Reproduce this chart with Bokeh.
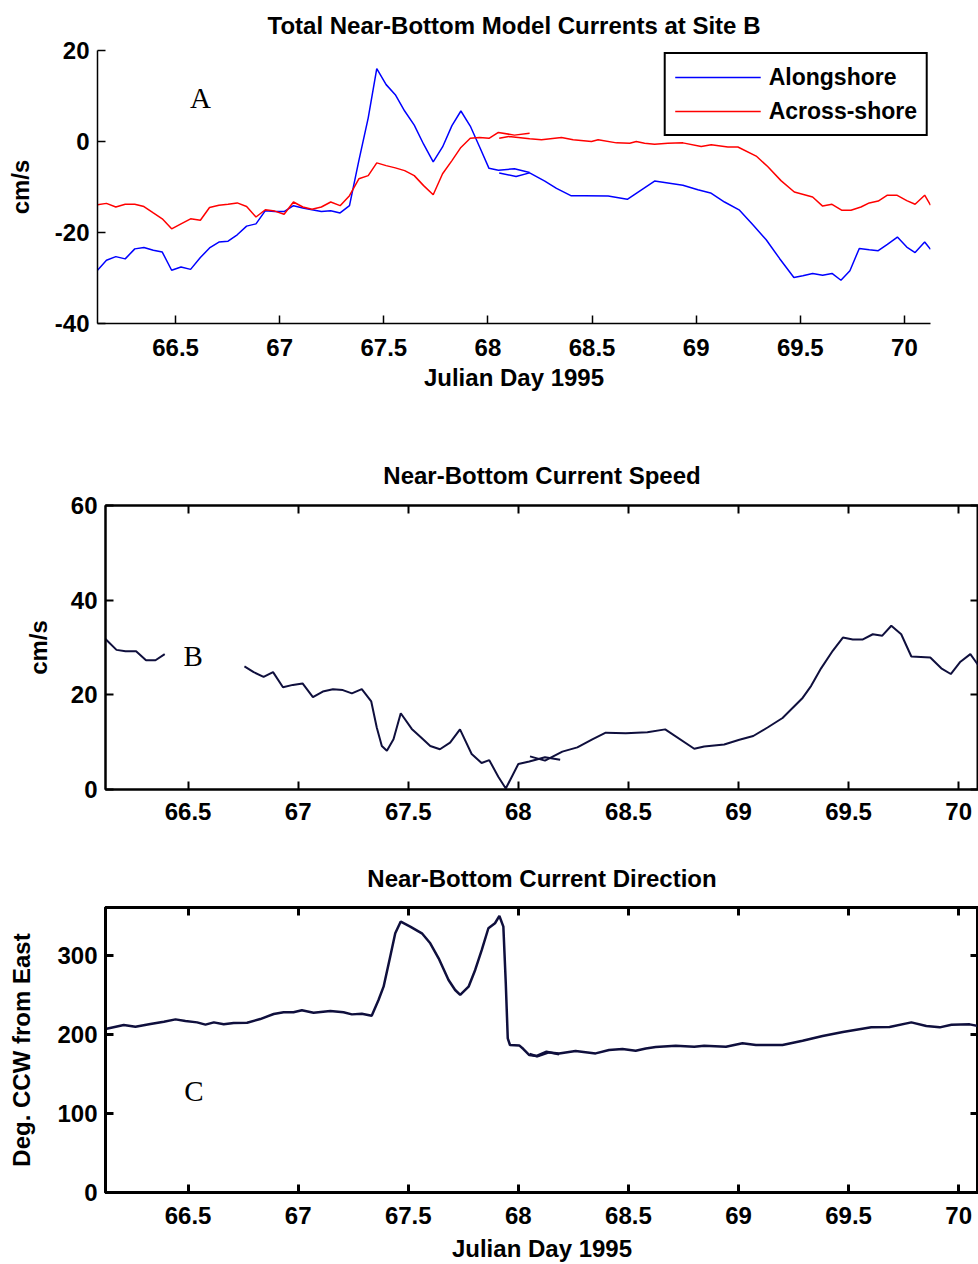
from bokeh.plotting import figure
from bokeh.models import (FixedTicker, LinearAxis, Legend, LegendItem, Label, Range1d)
from bokeh.embed import file_html
from bokeh.resources import INLINE

# ---------------- data ----------------
x_ticks = [66.5, 67, 67.5, 68, 68.5, 69, 69.5, 70]
x_tick_labels = ["66.5", "67", "67.5", "68", "68.5", "69", "69.5", "70"]
a_y_ticks = [-40, -20, 0, 20]
b_y_ticks = [0, 20, 40, 60]
c_y_ticks = [0, 100, 200, 300]

# Panel A, first data chunk (shared days)
a_day_1 = [66.125, 66.168, 66.213, 66.258, 66.304, 66.348, 66.393, 66.436, 66.481, 66.526,
           66.572, 66.619, 66.663, 66.708, 66.752, 66.796, 66.841, 66.886, 66.931, 66.976,
           67.021, 67.066, 67.111, 67.155, 67.2, 67.245, 67.29, 67.335, 67.38, 67.425,
           67.466, 67.511, 67.555, 67.6, 67.646, 67.691, 67.737, 67.782, 67.827, 67.87,
           67.915, 67.96, 68.005, 68.05, 68.127, 68.2]
along_1 = [-28.3, -26.1, -25.3, -25.8, -23.6, -23.3, -23.9, -24.3, -28.3, -27.6,
           -28.1, -25.5, -23.4, -22.1, -21.9, -20.5, -18.6, -18.1, -15.2, -15.4,
           -15.4, -14.1, -14.6, -15.0, -15.4, -15.2, -15.7, -14.1, -4.2, 5.2,
           16.0, 12.5, 10.3, 6.7, 3.6, -0.6, -4.5, -1.2, 3.5, 6.7,
           3.4, -1.2, -5.9, -6.3, -6.0, -6.8]
across_1 = [-13.9, -13.6, -14.4, -13.8, -13.8, -14.3, -15.7, -17.0, -19.2, -18.1,
            -17.0, -17.3, -14.5, -14.0, -13.8, -13.5, -14.3, -16.6, -15.0, -15.3,
            -16.0, -13.3, -14.4, -14.9, -14.4, -13.3, -14.1, -11.9, -8.2, -7.5,
            -4.7, -5.3, -5.8, -6.4, -7.5, -9.7, -11.7, -7.1, -4.2, -1.3,
            0.7, 0.9, 0.7, 2.0, 1.4, 1.8]

# Panel A, second data chunk
along_day_2 = [68.054, 68.135, 68.2, 68.273, 68.329, 68.398, 68.465, 68.577, 68.669, 68.8,
               68.936, 69.008, 69.069, 69.136, 69.208, 69.272, 69.336, 69.4, 69.469, 69.512,
               69.559, 69.607, 69.652, 69.695, 69.738, 69.783, 69.831, 69.874, 69.918, 69.966,
               70.011, 70.051, 70.097, 70.125]
along_2 = [-6.9, -7.7, -6.9, -8.7, -10.3, -11.9, -11.9, -12.0, -12.7, -8.7,
           -9.6, -10.6, -11.3, -13.3, -15.1, -18.3, -21.6, -25.7, -29.9, -29.5,
           -29.0, -29.4, -29.0, -30.5, -28.4, -23.5, -23.8, -24.0, -22.6, -21.0,
           -23.2, -24.4, -22.1, -23.7]
across_day_2 = [68.054, 68.1, 68.145, 68.2, 68.257, 68.353, 68.409, 68.497, 68.529, 68.617,
                68.681, 68.712, 68.752, 68.8, 68.864, 68.936, 69.024, 69.072, 69.152, 69.2,
                69.288, 69.343, 69.407, 69.471, 69.559, 69.607, 69.652, 69.698, 69.743, 69.791,
                69.831, 69.874, 69.918, 69.963, 70.011, 70.051, 70.097, 70.125]
across_2 = [0.7, 1.1, 0.9, 0.6, 0.4, 0.9, 0.4, 0.0, 0.4, -0.3,
            -0.4, 0.0, -0.4, -0.6, -0.4, -0.3, -1.1, -0.7, -1.2, -1.2,
            -3.2, -5.5, -8.6, -11.1, -12.2, -14.2, -13.8, -15.1, -15.1, -14.4,
            -13.5, -13.1, -11.8, -11.8, -13.0, -13.8, -11.8, -14.0]

# Panel B: current speed (three chunks)
spd_day_1 = [66.125, 66.175, 66.216, 66.264, 66.309, 66.352, 66.394]
spd_1 = [31.8, 29.5, 29.2, 29.2, 27.3, 27.3, 28.6]
spd_day_2 = [66.756, 66.798, 66.843, 66.886, 66.931, 66.976, 67.02, 67.067, 67.112, 67.158,
             67.203, 67.244, 67.289, 67.332, 67.357, 67.38, 67.403, 67.433, 67.466, 67.516,
             67.561, 67.6, 67.644, 67.69, 67.735, 67.788, 67.833, 67.868, 67.909, 67.943,
             68.0, 68.05, 68.121, 68.19]
spd_2 = [26.0, 24.8, 23.8, 24.8, 21.6, 22.1, 22.4, 19.5, 20.7, 21.2,
         21.0, 20.3, 21.2, 18.6, 13.1, 9.2, 8.2, 10.6, 16.1, 12.8,
         10.9, 9.2, 8.5, 9.9, 12.7, 7.5, 5.6, 6.2, 2.7, 0.2,
         5.4, 5.9, 6.8, 6.3]
spd_day_3 = [68.053, 68.121, 68.2, 68.268, 68.336, 68.397, 68.488, 68.586, 68.667, 68.799,
             68.844, 68.935, 69.004, 69.067, 69.132, 69.2, 69.292, 69.33, 69.375, 69.428,
             69.474, 69.519, 69.565, 69.61, 69.653, 69.694, 69.739, 69.785, 69.871, 69.921,
             69.964, 70.008, 70.053, 70.099]
spd_3 = [7.0, 6.1, 8.0, 8.9, 10.6, 12.0, 11.9, 12.1, 12.7, 8.6,
         9.1, 9.5, 10.5, 11.3, 13.1, 15.1, 19.4, 21.9, 25.6, 29.3,
         32.1, 31.7, 31.7, 32.8, 32.5, 34.6, 32.8, 28.1, 27.9, 25.6,
         24.4, 27.0, 28.6, 25.6]

# Panel C: current direction (two chunks)
dir_day_1 = [66.125, 66.208, 66.261, 66.329, 66.39, 66.443, 66.488, 66.541, 66.579, 66.617,
             66.662, 66.707, 66.768, 66.828, 66.889, 66.934, 66.979, 67.017, 67.07, 67.146,
             67.206, 67.244, 67.289, 67.334, 67.365, 67.388, 67.418, 67.441, 67.466, 67.509,
             67.562, 67.6, 67.638, 67.683, 67.713, 67.736, 67.774, 67.804, 67.834, 67.864,
             67.894, 67.914, 67.932, 67.943, 67.952, 67.962, 68.004, 68.023, 68.05, 68.083,
             68.128, 68.185]
dir_1 = [206.5, 211.5, 209.4, 212.8, 215.8, 218.7, 216.6, 214.9, 212.0, 214.9,
         212.4, 214.1, 214.5, 219.1, 225.5, 227.6, 227.6, 230.1, 227.1, 229.2,
         227.6, 225.0, 225.9, 223.3, 243.2, 260.0, 297.9, 327.4, 342.2, 335.9,
         327.4, 314.8, 295.8, 268.4, 255.8, 249.5, 260.0, 281.1, 306.4, 333.8,
         340.1, 349.3, 335.9, 264.2, 194.7, 186.3, 185.8, 181.2, 173.6, 172.4,
         177.8, 174.5]
dir_day_2 = [68.051, 68.086, 68.139, 68.185, 68.26, 68.351, 68.412, 68.473, 68.533, 68.579,
             68.624, 68.715, 68.799, 68.844, 68.943, 69.018, 69.079, 69.2, 69.291, 69.382,
             69.474, 69.603, 69.686, 69.785, 69.853, 69.914, 69.967, 70.05, 70.102]
dir_2 = [175.0, 172.0, 177.0, 175.5, 178.7, 175.7, 179.9, 181.2, 179.1, 182.0,
         183.7, 185.4, 184.2, 185.4, 184.2, 188.4, 186.3, 186.3, 191.7, 197.6,
         202.7, 208.6, 209.0, 214.9, 210.3, 208.6, 212.0, 212.4, 209.4]

# ---------------- styling helpers ----------------
FONT = "Liberation Sans"
SERIF = "Liberation Serif"
FS = "24px"
DARK = "#0f0f3d"


def style_axis(ax, ticks, labels=None, show=True, lw=1.5):
    ax.ticker = FixedTicker(ticks=ticks)
    if show:
        if labels is not None:
            ax.major_label_overrides = {t: l for t, l in zip(ticks, labels)}
    else:
        ax.major_label_overrides = {t: "" for t in ticks}
        ax.major_label_standoff = 0
        ax.major_label_text_font_size = "0px"
    ax.major_tick_in = 8
    ax.major_tick_out = 0
    ax.minor_tick_in = 0
    ax.minor_tick_out = 0
    ax.axis_line_width = lw
    ax.axis_line_color = "black"
    ax.major_tick_line_width = lw
    ax.major_tick_line_color = "black"
    ax.major_label_text_font = FONT
    if show:
        ax.major_label_text_font_size = FS
    ax.major_label_text_font_style = "bold"
    ax.major_label_text_color = "black"
    ax.axis_label_text_font = FONT
    ax.axis_label_text_font_size = FS
    ax.axis_label_text_font_style = "bold"
    ax.axis_label_text_color = "black"


def style_title(p, standoff):
    p.title.text_font = FONT
    p.title.text_font_size = FS
    p.title.text_font_style = "bold"
    p.title.align = "center"
    p.title.text_color = "black"
    p.title.standoff = standoff


# ---------------- Panel A ----------------
p1 = figure(width=978, height=430, x_range=Range1d(66.125, 70.125), y_range=Range1d(-40, 20),
            output_backend="svg", toolbar_location=None,
            title="Total Near-Bottom Model Currents at Site B",
            min_border_left=97, min_border_right=48, min_border_top=50, min_border_bottom=107)
p1.grid.visible = False
p1.outline_line_color = None
style_title(p1, 20)
p1.title.vertical_align = "top"
style_axis(p1.xaxis[0], x_ticks, x_tick_labels)
style_axis(p1.yaxis[0], a_y_ticks, [str(t) for t in a_y_ticks])
p1.xaxis[0].axis_label = "Julian Day 1995"
p1.yaxis[0].axis_label = "cm/s"
p1.xaxis[0].major_label_standoff = 15
p1.xaxis[0].axis_label_standoff = 5
p1.yaxis[0].major_label_standoff = 8
p1.yaxis[0].axis_label_standoff = 18

rb1 = p1.line(a_day_1, along_1, line_color="#0000ff", line_width=1.5)
p1.line(along_day_2, along_2, line_color="#0000ff", line_width=1.5)
rr1 = p1.line(a_day_1, across_1, line_color="#ff0000", line_width=1.5)
p1.line(across_day_2, across_2, line_color="#ff0000", line_width=1.5)

legend = Legend(items=[LegendItem(label="Alongshore", renderers=[rb1]),
                       LegendItem(label="Across-shore", renderers=[rr1])],
                location="top_right")
legend.label_text_font = FONT
legend.label_text_font_size = "23px"
legend.label_text_font_style = "bold"
legend.label_text_color = "black"
legend.border_line_color = "black"
legend.border_line_alpha = 1
legend.border_line_width = 2
legend.background_fill_color = "white"
legend.background_fill_alpha = 1
legend.glyph_width = 86
legend.glyph_height = 28
legend.label_height = 28
legend.label_standoff = 8
legend.spacing = 6
legend.padding = 9
legend.margin = 2
p1.add_layout(legend)

p1.add_layout(Label(x=66.62, y=9.5, text="A", text_font=SERIF, text_font_size="29px",
                    text_align="center", text_baseline="middle", text_color="black"))

# ---------------- Panel B ----------------
p2 = figure(width=978, height=410, x_range=Range1d(66.125, 70.09), y_range=Range1d(0, 60),
            output_backend="svg", toolbar_location=None,
            title="Near-Bottom Current Speed",
            min_border_left=105, min_border_right=0, min_border_top=75, min_border_bottom=51)
p2.grid.visible = False
p2.outline_line_color = "black"
p2.outline_line_width = 2
style_title(p2, 33)
style_axis(p2.xaxis[0], x_ticks, x_tick_labels, lw=2)
style_axis(p2.yaxis[0], b_y_ticks, [str(t) for t in b_y_ticks], lw=2)
p2.yaxis[0].axis_label = "cm/s"
p2.xaxis[0].major_label_standoff = 13
p2.yaxis[0].major_label_standoff = 8
p2.yaxis[0].axis_label_standoff = 16
top2 = LinearAxis()
style_axis(top2, x_ticks, show=False, lw=2)
p2.add_layout(top2, "above")
right2 = LinearAxis()
style_axis(right2, b_y_ticks, show=False, lw=2)
p2.add_layout(right2, "right")

p2.line(spd_day_1, spd_1, line_color=DARK, line_width=2)
p2.line(spd_day_2, spd_2, line_color=DARK, line_width=2)
p2.line(spd_day_3, spd_3, line_color=DARK, line_width=2)

p2.add_layout(Label(x=66.523, y=28.3, text="B", text_font=SERIF, text_font_size="29px",
                    text_align="center", text_baseline="middle", text_color="black"))

# ---------------- Panel C ----------------
p3 = figure(width=978, height=424, x_range=Range1d(66.125, 70.09), y_range=Range1d(0, 360),
            output_backend="svg", toolbar_location=None,
            title="Near-Bottom Current Direction",
            min_border_left=105, min_border_right=0, min_border_top=67, min_border_bottom=72)
p3.grid.visible = False
p3.outline_line_color = "black"
p3.outline_line_width = 3
style_title(p3, 31)
style_axis(p3.xaxis[0], x_ticks, x_tick_labels, lw=3)
style_axis(p3.yaxis[0], c_y_ticks, [str(t) for t in c_y_ticks], lw=3)
p3.xaxis[0].axis_label = "Julian Day 1995"
p3.yaxis[0].axis_label = "Deg. CCW from East"
p3.xaxis[0].major_label_standoff = 14
p3.xaxis[0].axis_label_standoff = 8
p3.yaxis[0].major_label_standoff = 8
p3.yaxis[0].axis_label_standoff = 19
top3 = LinearAxis()
style_axis(top3, x_ticks, show=False, lw=3)
p3.add_layout(top3, "above")
right3 = LinearAxis()
style_axis(right3, c_y_ticks, show=False, lw=3)
p3.add_layout(right3, "right")

p3.line(dir_day_1, dir_1, line_color=DARK, line_width=2.5)
p3.line(dir_day_2, dir_2, line_color=DARK, line_width=2.5)

p3.add_layout(Label(x=66.527, y=128, text="C", text_font=SERIF, text_font_size="29px",
                    text_align="center", text_baseline="middle", text_color="black"))

open("out.html", "w").write(file_html([p1, p2, p3], INLINE))
